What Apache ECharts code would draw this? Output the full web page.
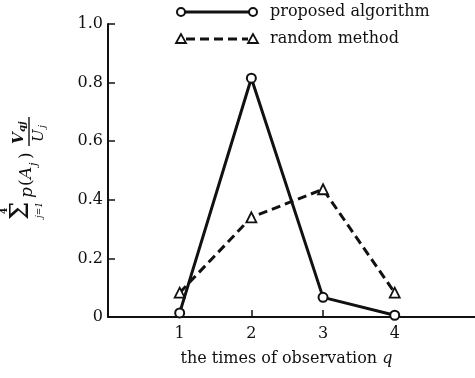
<!DOCTYPE html>
<html>
<head>
<meta charset="utf-8">
<script src="https://cdn.jsdelivr.net/npm/echarts@6/dist/echarts.min.js"></script>
<style>
  html, body { margin: 0; padding: 0; background: #fff; }
  #chart { width: 475px; height: 378px; }
</style>
</head>
<body>
<div id="chart"></div>
<script>
// values
var times = [1, 2, 3, 4];
var proposed = [0.014, 0.815, 0.067, 0.006];
var random = [0.083, 0.34, 0.436, 0.083];
var xTicks = [1, 2, 3, 4];
var yTicks = ['0', '0.2', '0.4', '0.6', '0.8', '1.0'];
var names = ['proposed algorithm', 'random method'];

var FONT = 'DejaVu Serif';

function pairs(xs, ys)
{
  var out = [];
  for (var i = 0; i < xs.length; i++) {
    out.push([xs[i], ys[i]]);
  }
  return out;
}

// small helper for the rotated y label pieces
function t(txt, x, y, size, extra)
{
  var s = {
    text : txt,
    font : (extra || '') + ' ' + size + 'px "' + FONT + '"',
    fill : '#111',
    align : 'left',
    verticalAlign : 'middle'
  };
  return { type : 'text', x : x, y : y, style : s };
}

var chart = echarts.init(document.getElementById('chart'));

var option = {
  animation : false,
  backgroundColor : '#fff',
  grid : {
    left : 108,
    right : 0,
    top : 24,
    bottom : 61
  },
  xAxis : {
    type : 'value',
    min : 0,
    max : 5.12,
    interval : 1,
    name : 'the times of observation {i|q}',
    nameLocation : 'middle',
    nameGap : 34,
    nameTextStyle : {
      fontFamily : FONT,
      fontSize : 16,
      color : '#111',
      padding : [0, 10, 0, 0],
      rich : {
        i : { fontFamily : FONT, fontSize : 16, fontStyle : 'italic', color : '#111' }
      }
    },
    axisLine : { lineStyle : { color : '#111', width : 2 } },
    axisTick : {
      inside : true,
      length : 7,
      customValues : xTicks,
      lineStyle : { color : '#111', width : 1.5 }
    },
    axisLabel : {
      customValues : xTicks,
      margin : 9,
      fontFamily : FONT,
      fontSize : 16,
      color : '#111'
    },
    splitLine : { show : false }
  },
  yAxis : {
    type : 'value',
    min : 0,
    max : 1,
    interval : 0.2,
    axisLine : { show : true, lineStyle : { color : '#111', width : 2 } },
    axisTick : {
      show : true,
      inside : true,
      length : 7,
      lineStyle : { color : '#111', width : 1.5 }
    },
    axisLabel : {
      margin : 5,
      fontFamily : FONT,
      fontSize : 16,
      color : '#111',
      formatter : function(v){
        return yTicks[Math.round(v * 5)];
      }
    },
    splitLine : { show : false }
  },
  series : [{
    name : names[0],
    type : 'line',
    data : pairs(times, proposed),
    symbol : 'circle',
    symbolSize : 9,
    lineStyle : { color : '#111', width : 3 },
    itemStyle : { color : '#fff', borderColor : '#111', borderWidth : 2 },
    z : 3
  },{
    name : names[1],
    type : 'line',
    data : pairs(times, random),
    symbol : 'triangle',
    symbolSize : 10,
    lineStyle : { color : '#111', width : 3, type : [9, 5] },
    itemStyle : { color : '#fff', borderColor : '#111', borderWidth : 1.8 },
    z : 4
  }],
  graphic : [
    // legend, row 1
    { type : 'line', shape : { x1 : 181, y1 : 12, x2 : 253, y2 : 12 }, style : { stroke : '#111', lineWidth : 3 } },
    { type : 'circle', shape : { cx : 181, cy : 12, r : 4 }, style : { fill : '#fff', stroke : '#111', lineWidth : 2 } },
    { type : 'circle', shape : { cx : 253, cy : 12, r : 4 }, style : { fill : '#fff', stroke : '#111', lineWidth : 2 } },
    { type : 'text', x : 270, y : 12, style : { text : names[0], font : '16px "' + FONT + '"', fill : '#111', verticalAlign : 'middle' } },
    // legend, row 2
    { type : 'line', shape : { x1 : 186, y1 : 39, x2 : 248, y2 : 39 }, style : { stroke : '#111', lineWidth : 3, lineDash : [9, 5] } },
    { type : 'polygon', shape : { points : [[181, 34], [176, 43], [186, 43]] }, style : { fill : '#fff', stroke : '#111', lineWidth : 1.8 } },
    { type : 'polygon', shape : { points : [[253, 34], [248, 43], [258, 43]] }, style : { fill : '#fff', stroke : '#111', lineWidth : 1.8 } },
    { type : 'text', x : 270, y : 39, style : { text : names[1], font : '16px "' + FONT + '"', fill : '#111', verticalAlign : 'middle' } },
    // rotated y axis label: sum_{j=1}^{4} p(A_j) V_qj / U_j
    {
      type : 'group',
      x : 32,
      y : 222,
      rotation : Math.PI / 2,
      children : [
        t('4', 8, -27, 9, 'bold'),
        t('\u03A3', 2, -11, 26),
        t('j=1', 4, 8, 9, 'italic'),
        t('p', 24, -4, 17, 'italic'),
        t('(', 36, -5, 17),
        t('A', 43, -5, 17, 'italic'),
        t('j', 56, 2, 11, 'italic'),
        t(')', 63, -5, 17),
        { type : 'line', shape : { x1 : 76, y1 : -3, x2 : 105, y2 : -3 }, style : { stroke : '#111', lineWidth : 1.4 } },
        t('V', 78, -13, 15, 'italic bold'),
        t('qj', 90, -10, 10, 'italic bold'),
        t('U', 80, 7, 15, 'italic'),
        t('j', 94, 10, 10, 'italic')
      ]
    }
  ]
};

chart.setOption(option);
</script>
</body>
</html>
